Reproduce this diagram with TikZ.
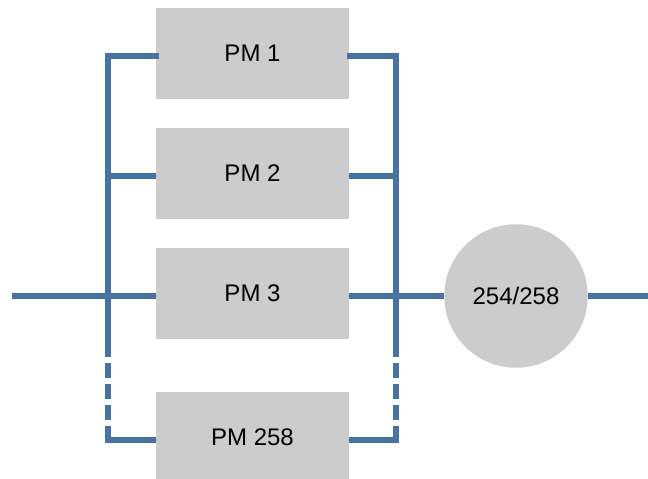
\documentclass[tikz,border=0pt]{standalone}
\usepackage{fontspec}
\setmainfont{Liberation Sans}
\definecolor{wire}{RGB}{69,115,162}
\definecolor{boxgray}{RGB}{204,204,204}
\begin{document}
\begin{tikzpicture}[x=1pt,y=-1pt,
  pmbox/.style={rectangle, fill=boxgray, draw=none, minimum width=193pt, minimum height=91pt,
                inner sep=0pt, font=\fontsize{24}{28}\selectfont},
  voter/.style={circle, fill=boxgray, draw=none, minimum size=143.5pt, inner sep=0pt,
                font=\fontsize{24}{28}\selectfont},
  wireline/.style={draw=wire, line width=5.4pt},
  dashwire/.style={wireline, dash pattern=on 15pt off 6pt}]
\useasboundingbox (0,0) rectangle (648,479);

% modules and voter
\node[pmbox] (pm1)   at (252.5,53.5)  {PM 1};
\node[pmbox] (pm2)   at (252.5,173.5) {PM 2};
\node[pmbox] (pm3)   at (252.5,293.5) {PM 3};
\node[pmbox] (pm258) at (252.5,437.5) {PM 258};
\node[voter] (vote)  at (516,296)     {254/258};

% junction points on the two buses
\coordinate (in)  at (12,296);
\coordinate (out) at (660,296);
\coordinate (la) at (108,56);
\coordinate (lb) at (108,176);
\coordinate (lc) at (108,296);
\coordinate (ld) at (108,342);
\coordinate (le) at (108,440);
\coordinate (ra) at (396,56);
\coordinate (rb) at (396,176);
\coordinate (rc) at (396,296);
\coordinate (rd) at (396,342);
\coordinate (re) at (396,440);

% buses
\draw[wireline, line cap=rect] (la) -- (ld);
\draw[wireline, line cap=rect] (ra) -- (rd);
\draw[dashwire] (ld) -- (le);
\draw[dashwire] (rd) -- (re);

% branches into the modules
\draw[wireline] (in) -- (in -| pm3.west);
\draw[wireline, line cap=rect] (la) -- (la -| pm1.west);
\draw[wireline] (lb) -- (lb -| pm2.west);
\draw[wireline] ([xshift=-2.7pt]le) -- (le -| pm258.west);

% branches out of the modules
\draw[wireline, line cap=rect] (ra) -- (ra -| pm1.east);
\draw[wireline] (rb) -- (rb -| pm2.east);
\draw[wireline] (rc -| pm3.east) -- (vote.west);
\draw[wireline] ([xshift=2.7pt]re) -- (re -| pm258.east);

% voter output
\draw[wireline] (vote.east) -- (out);
\end{tikzpicture}
\end{document}
